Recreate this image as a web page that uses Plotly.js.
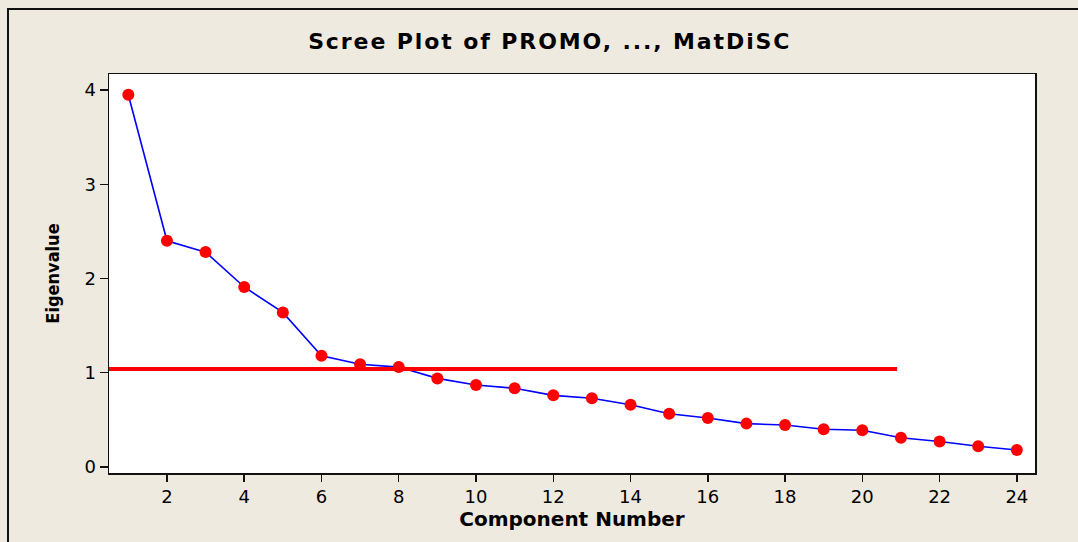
<!DOCTYPE html>
<html>
<head>
<meta charset="utf-8">
<script src="https://cdn.plot.ly/plotly-3.0.1.min.js"></script>
<style>
  html, body { margin: 0; padding: 0; background: #EEEAE0; overflow: hidden; }
  #chart { width: 1078px; height: 542px; }
  #frame { position: absolute; left: 7px; top: 8px; right: -20px; bottom: -20px;
           border: 2px solid #111; pointer-events: none; }
</style>
</head>
<body>
<div id="chart"></div>
<div id="frame"></div>
<script>
// Component numbers
var components = [1,2,3,4,5,6,7,8,9,10,11,12,13,14,15,16,17,18,19,20,21,22,23,24];
// Eigenvalues
var eigenvalues = [3.95,2.40,2.28,1.91,1.64,1.18,1.09,1.06,0.94,0.87,0.835,0.76,0.73,0.66,0.565,0.52,0.46,0.445,0.40,0.39,0.31,0.27,0.22,0.18];
// Reference (cut-off) line
var cutoffX = [0.4, 20.9];
var cutoffY = [1.04, 1.04];
// Tick values
var xTicks = [2,4,6,8,10,12,14,16,18,20,22,24];
var yTicks = [0,1,2,3,4];

var traces = [
  {
    x: components, y: eigenvalues, type: 'scatter', mode: 'lines+markers',
    line: { color: '#0000FF', width: 1.6 },
    marker: { color: '#FF0000', size: 12, line: { width: 0 } },
    hoverinfo: 'x+y', showlegend: false, cliponaxis: false
  },
  {
    x: cutoffX, y: cutoffY, type: 'scatter', mode: 'lines',
    line: { color: '#FF0000', width: 4 },
    hoverinfo: 'skip', showlegend: false
  }
];

var layout = {
  width: 1078, height: 542,
  paper_bgcolor: '#EEEAE0', plot_bgcolor: '#FFFFFF',
  margin: { l: 109, r: 43, t: 74, b: 69, pad: 0 },
  showlegend: false,
  title: {
    text: '<span style="letter-spacing:1.9px"><b>Scree Plot of PROMO, ..., MatDiSC</b></span>',
    font: { family: 'DejaVu Sans', size: 22, color: '#000' },
    x: 0.476, xanchor: 'center', y: 1 - 41/542, yanchor: 'middle', xref: 'paper', yref: 'container'
  },
  xaxis: {
    range: [0.5, 24.47], tickvals: xTicks, ticktext: xTicks.map(String),
    showgrid: false, zeroline: false,
    showline: true, mirror: true, linecolor: '#111', linewidth: 1.5,
    ticks: 'outside', ticklen: 7, tickwidth: 1.5, tickcolor: '#111',
    tickfont: { family: 'DejaVu Sans', size: 18, color: '#000' },
    title: { text: '<b>Component Number</b>', font: { family: 'DejaVu Sans', size: 20, color: '#000' }, standoff: 3 },
    automargin: false
  },
  yaxis: {
    range: [-0.064, 4.17], tickvals: yTicks, ticktext: yTicks.map(String),
    showgrid: false, zeroline: false,
    showline: true, mirror: true, linecolor: '#111', linewidth: 1.5,
    ticks: 'outside', ticklen: 8, tickwidth: 1.5, tickcolor: '#111',
    tickfont: { family: 'DejaVu Sans', size: 18, color: '#000' },
    title: { text: '<b>Eigenvalue</b>', font: { family: 'Liberation Sans Narrow, DejaVu Sans Condensed, sans-serif', size: 18, color: '#000' }, standoff: 20 },
    automargin: false
  }
};

Plotly.newPlot('chart', traces, layout, { displayModeBar: false, staticPlot: true });
</script>
</body>
</html>
